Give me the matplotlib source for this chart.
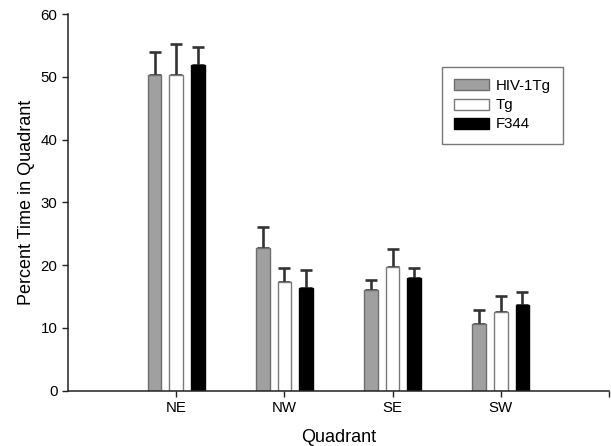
import matplotlib
matplotlib.use("Agg")
import matplotlib.pyplot as plt
import numpy as np

plt.rcParams['font.family'] = ['Liberation Sans', 'DejaVu Sans']

quadrants = ["NE", "NW", "SE", "SW"]
series = ["HIV-1Tg", "Tg", "F344"]
hiv_mean = [50.3, 22.8, 16.1, 10.6]
hiv_err = [3.6, 3.3, 1.5, 2.2]
tg_mean = [50.3, 17.3, 19.7, 12.6]
tg_err = [4.9, 2.3, 2.9, 2.5]
f344_mean = [51.8, 16.4, 17.9, 13.7]
f344_err = [3.0, 2.9, 1.6, 2.1]

means = [hiv_mean, tg_mean, f344_mean]
errs = [hiv_err, tg_err, f344_err]
faces = ["#a0a0a0", "#ffffff", "#000000"]
edges = ["#6e6e6e", "#7a7a7a", "#000000"]

fig = plt.figure(figsize=(6.11, 4.46), dpi=100)
ax = fig.add_axes([68/611, 1-390.7/446, (609-68)/611, (390.7-14)/446])

x = np.arange(1, len(quadrants)+1)
width = 0.125
offsets = [-0.2, 0.0, 0.2]
for m, e, fc, ec, off, lab in zip(means, errs, faces, edges, offsets, series):
    ax.bar(x+off, m, width, color=fc, edgecolor=ec, linewidth=1.0, label=lab, zorder=2)
    ax.errorbar(x+off, m, yerr=[np.zeros(len(m)), e], fmt='none', ecolor='#333333',
                elinewidth=1.9, capsize=4.6, capthick=1.9, zorder=1)

ax.set_xlim(0, 5)
ax.set_ylim(0, 60)
ax.set_xticks([1, 2, 3, 4, 5])
ax.set_xticklabels(quadrants + [""])
ax.set_yticks(np.arange(0, 61, 10))
ax.tick_params(axis='both', labelsize=10.8, length=4, width=1.0, direction='out', color='#222222')
for s in ['top', 'right']:
    ax.spines[s].set_visible(False)
for s in ['left', 'bottom']:
    ax.spines[s].set_linewidth(1.1)
    ax.spines[s].set_color('#222222')

ax.set_xlabel("Quadrant", fontsize=13, labelpad=10)
ax.set_ylabel("Percent Time in Quadrant", fontsize=13, labelpad=4)

leg = ax.legend(loc='upper left', bbox_to_anchor=(442/611, 1-67/446), bbox_transform=fig.transFigure,
                fontsize=10.8, frameon=True, fancybox=False, borderaxespad=0,
                handlelength=2.3, handleheight=0.75, handletextpad=0.5,
                labelspacing=0.35, borderpad=0.8)
leg.get_frame().set_edgecolor('#555555')
leg.get_frame().set_linewidth(1.0)

fig.savefig("out.png", dpi=100)
